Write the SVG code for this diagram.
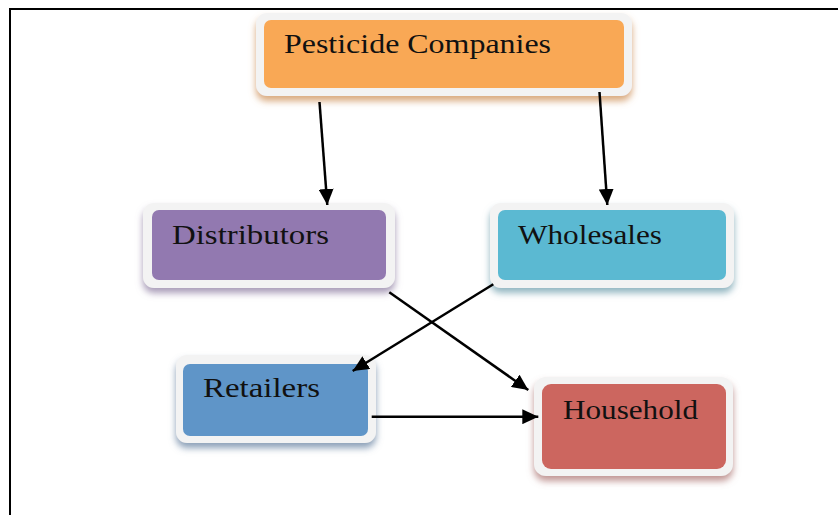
<svg xmlns="http://www.w3.org/2000/svg" width="838" height="515" viewBox="0 0 838 515">
  <defs>
    <style>
      .frame { fill: none; stroke: #000; stroke-width: 2; }
      .outer { fill: #f3f3f3; }
      .label { font-family: "Liberation Serif", "DejaVu Serif", serif; font-size: 28px; fill: #111; }
      .edge { fill: none; stroke: #000; stroke-width: 2.5; marker-end: url(#arrow); }
    </style>
    <marker id="arrow" markerUnits="userSpaceOnUse" markerWidth="17" markerHeight="15" refX="16" refY="7.5" orient="auto">
      <path d="M0,0 L16,7.5 L0,15 z" fill="#000"/>
    </marker>
    <filter id="shOrange" x="-10%" y="-20%" width="120%" height="160%">
      <feDropShadow dx="0" dy="5" stdDeviation="3.5" flood-color="#d29a66" flood-opacity="0.85"/>
    </filter>
    <filter id="shPurple" x="-10%" y="-20%" width="120%" height="160%">
      <feDropShadow dx="0" dy="5" stdDeviation="3.5" flood-color="#9a8bab" flood-opacity="0.85"/>
    </filter>
    <filter id="shCyan" x="-10%" y="-20%" width="120%" height="160%">
      <feDropShadow dx="0" dy="5" stdDeviation="3.5" flood-color="#7fa9b6" flood-opacity="0.85"/>
    </filter>
    <filter id="shBlue" x="-10%" y="-20%" width="120%" height="160%">
      <feDropShadow dx="0" dy="5" stdDeviation="3.5" flood-color="#7f96b0" flood-opacity="0.9"/>
    </filter>
    <filter id="shRed" x="-10%" y="-20%" width="120%" height="160%">
      <feDropShadow dx="0" dy="5" stdDeviation="3.5" flood-color="#b98a88" flood-opacity="0.9"/>
    </filter>
  </defs>

  <rect width="838" height="515" fill="#fff"/>
  <!-- page frame, open at right and bottom -->
  <rect class="frame" x="10" y="9" width="840" height="520"/>

  <g id="node-pesticide-companies">
    <rect class="outer" x="256" y="13" width="376" height="83" rx="11" filter="url(#shOrange)"/>
    <rect x="264" y="20" width="360" height="68" rx="7" fill="#f9a855"/>
    <text class="label" x="284" y="53" textLength="267" lengthAdjust="spacingAndGlyphs">Pesticide Companies</text>
  </g>

  <g id="node-distributors">
    <rect class="outer" x="143" y="203" width="252" height="85" rx="11" filter="url(#shPurple)"/>
    <rect x="152" y="210" width="234" height="70" rx="7" fill="#9279b0"/>
    <text class="label" x="172" y="244" textLength="157" lengthAdjust="spacingAndGlyphs">Distributors</text>
  </g>

  <g id="node-wholesales">
    <rect class="outer" x="490" y="203" width="244" height="85" rx="11" filter="url(#shCyan)"/>
    <rect x="498" y="210" width="228" height="70" rx="7" fill="#5bb9d2"/>
    <text class="label" x="518" y="244" textLength="144" lengthAdjust="spacingAndGlyphs">Wholesales</text>
  </g>

  <g id="node-retailers">
    <rect class="outer" x="176" y="355" width="200" height="88" rx="11" filter="url(#shBlue)"/>
    <rect x="183" y="364" width="185" height="72" rx="7" fill="#5f95c8"/>
    <text class="label" x="203" y="397" textLength="117" lengthAdjust="spacingAndGlyphs">Retailers</text>
  </g>

  <g id="node-household">
    <rect class="outer" x="534" y="377" width="199" height="99" rx="12" filter="url(#shRed)"/>
    <rect x="542" y="384" width="184" height="85" rx="9" fill="#cc665f"/>
    <text class="label" x="563" y="419" textLength="135" lengthAdjust="spacingAndGlyphs">Household</text>
  </g>

  <g id="connectors">
    <line class="edge" x1="319.5" y1="102" x2="327.3" y2="205"/>
    <line class="edge" x1="599.5" y1="92" x2="607.3" y2="205"/>
    <line class="edge" x1="493.3" y1="284.3" x2="352.7" y2="371"/>
    <line class="edge" x1="389.3" y1="292.3" x2="528.3" y2="390"/>
    <line class="edge" x1="371.7" y1="416.7" x2="538.3" y2="416.7"/>
  </g>
</svg>
